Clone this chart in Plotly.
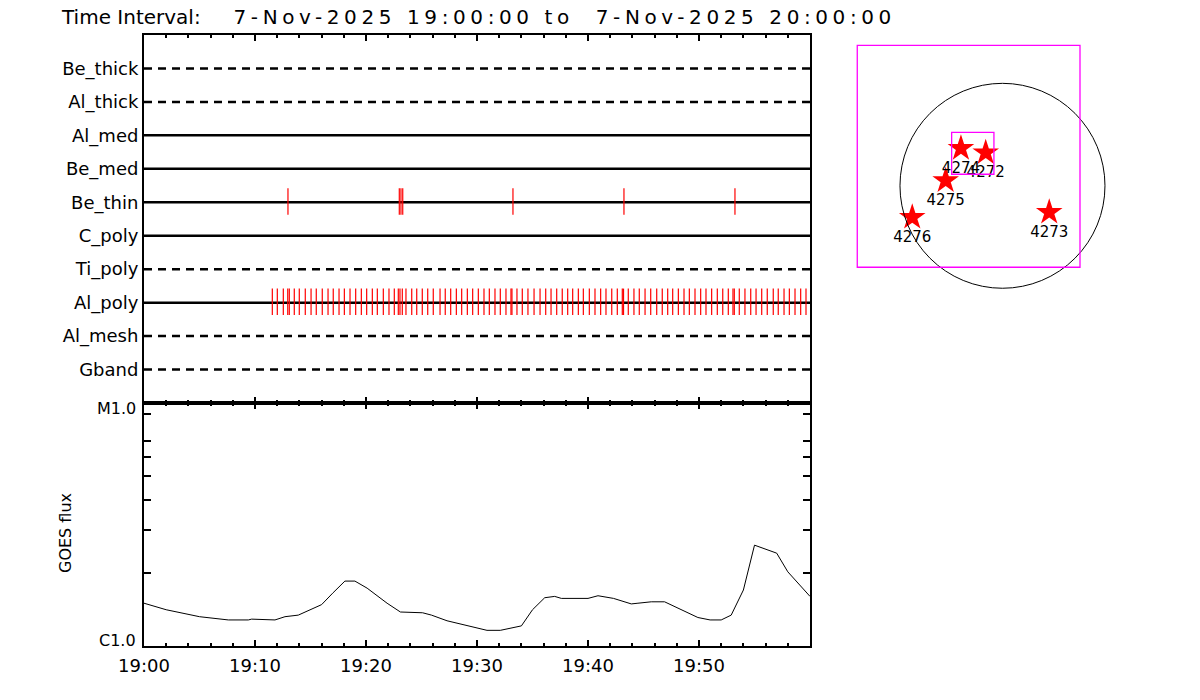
import plotly.graph_objects as go
import pandas as pd

START = pd.Timestamp("2025-11-07 19:00:00")
END = pd.Timestamp("2025-11-07 20:00:00")

# filter channels, top to bottom
channels = ["Be_thick", "Al_thick", "Al_med", "Be_med", "Be_thin",
            "C_poly", "Ti_poly", "Al_poly", "Al_mesh", "Gband"]
dashed = [True, True, False, False, False, False, True, False, True, True]

# exposure times (minutes after 19:00)
be_thin_min = [12.97, 23.0, 23.15, 23.31, 33.24, 43.24, 53.24]
al_poly_min = [11.56, 12.01, 12.55, 12.95, 13.09, 13.54, 13.99, 14.53, 15.05, 15.52,
               16.06, 16.58, 17.05, 17.57, 18.05, 18.56, 19.07, 19.58, 20.06, 20.57,
               21.02, 21.56, 22.07, 22.55, 22.91, 23.06, 23.27, 23.60, 24.12, 24.57,
               25.07, 25.56, 26.06, 26.67, 27.14, 27.63, 28.14, 28.62, 29.13, 29.61,
               30.12, 30.63, 31.11, 31.62, 32.10, 32.61, 33.06, 33.15, 33.60, 34.08,
               34.59, 35.14, 35.68, 36.19, 36.67, 37.18, 37.68, 38.17, 38.62, 39.13,
               39.58, 40.12, 40.63, 41.14, 41.62, 42.14, 42.64, 43.09, 43.20, 43.63,
               44.14, 44.62, 45.14, 45.65, 46.19, 46.69, 47.18, 47.63, 48.14, 48.65,
               49.13, 49.64, 50.15, 50.63, 51.14, 51.65, 52.14, 52.64, 53.06, 53.18,
               53.63, 54.14, 54.66, 55.14, 55.65, 56.15, 56.69, 57.14, 57.66, 58.14,
               58.65, 59.16, 59.64]

# GOES flux
goes_min = [0, 2, 5, 7.6, 9.4, 9.7, 11.8, 12.7, 13.9, 15.2,
            16.0, 17.0, 18.1, 19.0, 20.1, 21.9, 23.1, 25.1, 25.9, 27.3,
            29.4, 30.9, 32.1, 34.0, 35.0, 36.1, 37.0, 37.6, 40.0, 40.9,
            42.3, 43.9, 44.5, 45.7, 46.9, 48.3, 49.9, 51.0, 52.0, 52.9,
            54.0, 55.0, 57.0, 58.0, 59.1, 60]
goes_flux = [1.50, 1.41, 1.32, 1.28, 1.28, 1.29, 1.28, 1.32, 1.34, 1.43,
             1.48, 1.65, 1.85, 1.85, 1.73, 1.50, 1.38, 1.37, 1.34, 1.27,
             1.20, 1.16, 1.16, 1.21, 1.41, 1.58, 1.60, 1.57, 1.57, 1.61,
             1.57, 1.49, 1.50, 1.52, 1.52, 1.42, 1.31, 1.28, 1.28, 1.34,
             1.70, 2.60, 2.41, 2.02, 1.77, 1.60]  # x 1e-6 W/m^2

# active regions on the disk (arcsec)
regions = ["4274", "4272", "4275", "4276", "4273"]
region_x = [-389, -157, -532, -845, 438]
region_y = [351, 310, 48, -295, -248]
sun_radius = 960
fov_box = [-1360, -763, 726, 1316]   # x0, y0, x1, y1
sel_box = [-476, 108, -80, 501]

FONT = "DejaVu Sans"
# page body has an 8px margin, so the layout is laid out 8px up/left
OFF = 8
L, T = 144 - OFF, 35 - OFF
PW, PH = 1200 - L, 611


def px_x(x):
    return (x - OFF - L) / PW


def px_y(y):
    return (T + PH - (y - OFF)) / PH


def to_time(m):
    return START + pd.to_timedelta(m, unit="min")


fig = go.Figure()

# channel lines
nrow = len(channels)
for i, ch in enumerate(channels):
    row = nrow - i
    fig.add_trace(go.Scatter(
        x=[START, END], y=[row, row], mode="lines",
        line=dict(color="black", width=2.5, dash="8px,6px" if dashed[i] else "solid"),
        xaxis="x", yaxis="y", hoverinfo="skip"
    ))


def event_ticks(times, row):
    xs, ys = [], []
    for m in times:
        t = to_time(m)
        xs += [t, t, None]
        ys += [row - 0.37, row + 0.42, None]
    return xs, ys


for times, ch in [(be_thin_min, "Be_thin"), (al_poly_min, "Al_poly")]:
    xs, ys = event_ticks(times, nrow - channels.index(ch))
    fig.add_trace(go.Scatter(
        x=xs, y=ys, mode="lines", line=dict(color="red", width=1.2),
        xaxis="x", yaxis="y", name=ch
    ))

# GOES curve
fig.add_trace(go.Scatter(
    x=[to_time(m) for m in goes_min], y=[f * 1e-6 for f in goes_flux],
    mode="lines", line=dict(color="black", width=1),
    xaxis="x2", yaxis="y2", name="GOES"
))

# disk map
fig.add_trace(go.Scatter(
    x=region_x, y=region_y, mode="markers+text", text=regions,
    textposition="bottom center", textfont=dict(size=15, color="black"),
    marker=dict(symbol="star", size=20, color="red", line=dict(width=0)),
    xaxis="x3", yaxis="y3"
))

fig.add_shape(type="circle", xref="x3", yref="y3",
              x0=-sun_radius, y0=-sun_radius, x1=sun_radius, y1=sun_radius,
              line=dict(color="black", width=1))
fig.add_shape(type="rect", xref="x3", yref="y3",
              x0=fov_box[0], y0=fov_box[1], x1=fov_box[2], y1=fov_box[3],
              line=dict(color="#ff00ff", width=1.3))
fig.add_shape(type="rect", xref="x3", yref="y3",
              x0=sel_box[0], y0=sel_box[1], x1=sel_box[2], y1=sel_box[3],
              line=dict(color="#ff00ff", width=1.3))

tenmin = [to_time(m) for m in range(0, 60, 10)]
ticklabels = [t.strftime("%H:%M") for t in tenmin]
xcommon = dict(
    domain=[0, px_x(810)], range=[START, END], showgrid=False, zeroline=False,
    showline=True, linecolor="black", linewidth=2, mirror="allticks",
    ticks="inside", ticklen=6, tickwidth=2, tickcolor="black",
    tickmode="array", tickvals=tenmin, ticktext=ticklabels,
    minor=dict(ticks="inside", ticklen=3, tickwidth=2, tickcolor="black",
               dtick=120000, tick0=START, showgrid=False),
)

flux_ticks = [1e-6, 2e-6, 3e-6, 4e-6, 5e-6, 6e-6, 7e-6, 9e-6, 1e-5]
split = px_y(403)

title = ("Time Interval:<span style='letter-spacing:4.6px'>\u00a0\u00a0\u00a0"
         "7-Nov-2025 19:00:00 to\u00a0\u00a07-Nov-2025 20:00:00</span>")

fig.update_layout(
    width=1200, height=700,
    margin=dict(l=L, r=0, t=T, b=700 - T - PH),
    paper_bgcolor="white", plot_bgcolor="white",
    showlegend=False,
    font=dict(family=FONT, color="black", size=18),
    title=dict(text=title, x=(62 - OFF) / 1200, xanchor="left",
               y=1 - (17 - OFF) / 700, yanchor="middle", font=dict(size=20)),
    xaxis=dict(anchor="y", showticklabels=False, **xcommon),
    xaxis2=dict(anchor="y2", showticklabels=True, ticklabelstandoff=2, **xcommon),
    yaxis=dict(domain=[split, 1], range=[0, nrow + 1], tickmode="array",
               tickvals=[nrow - i for i in range(nrow)], ticktext=channels,
               ticks="", showgrid=False, zeroline=False, showline=True,
               linecolor="black", linewidth=2, mirror=True,
               tickfont=dict(size=18)),
    yaxis2=dict(domain=[0, split], type="log", range=[-6, -5],
                tickmode="array", tickvals=flux_ticks,
                ticktext=[""] * len(flux_ticks),
                ticks="inside", ticklen=7, tickwidth=1.5, tickcolor="black",
                showgrid=False, zeroline=False, showline=True,
                linecolor="black", linewidth=2, mirror="allticks"),
    xaxis3=dict(domain=[px_x(850), px_x(1110)], range=[-1428, 1007],
                visible=False, anchor="y3"),
    yaxis3=dict(domain=[px_y(300), px_y(40)], range=[-1070, 1366],
                visible=False, anchor="x3"),
)

# flux class labels, set slightly inside the axis ends like the original
for lab, ypx in [("M1.0", 408), ("C1.0", 640)]:
    fig.add_annotation(text=lab, xref="paper", yref="paper",
                       x=px_x(138), y=px_y(ypx), xanchor="right",
                       yanchor="middle", showarrow=False, font=dict(size=16))

fig.add_annotation(text="GOES flux", xref="paper", yref="paper",
                   x=px_x(65), y=px_y(533), textangle=-90,
                   showarrow=False, font=dict(size=16),
                   xanchor="center", yanchor="middle")

fig.write_html("out.html")
